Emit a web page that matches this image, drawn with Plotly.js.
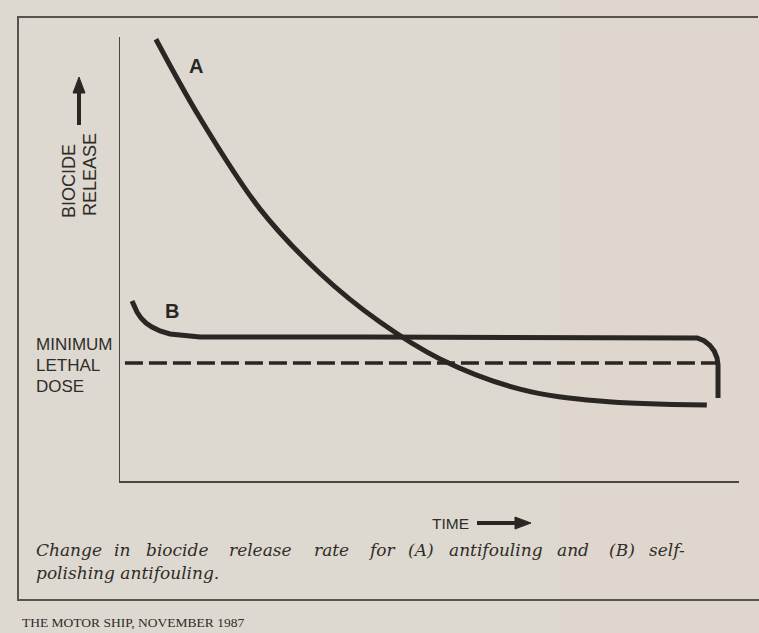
<!DOCTYPE html>
<html>
<head>
<meta charset="utf-8">
<script src="https://cdn.plot.ly/plotly-3.0.1.min.js"></script>
<style>
html,body{margin:0;padding:0;background:#ddd9d0;}
#chart{width:759px;height:633px;}
</style>
</head>
<body>
<div id="chart"></div>
<script>
// ---- data (schematic: time 0..100, biocide release 0..100) ----
const timeA    = [5.8, 12.9, 22.6, 32.3, 42.0, 51.7, 64.6, 77.5, 94.8];
const releaseA = [99.5, 81.8, 61.3, 46.8, 35.8, 27.5, 20.7, 18.0, 17.1];
const timeB    = [1.94, 2.26, 2.75, 3.39, 4.20, 5.17, 6.46, 8.08, 10.50, 12.92, 40, 70, 92.08, 93.25, 94.35, 95.28, 95.99, 96.45, 96.61, 96.61];
const releaseB = [40.54, 39.41, 38.06, 36.71, 35.59, 34.68, 33.78, 33.11, 32.66, 32.43, 32.43, 32.43, 32.43, 32.21, 31.58, 30.59, 29.28, 27.70, 26.13, 18.69];
const lethalTime = [0.8, 97.4];
const lethalDose = [26.6, 26.6];
const curveLabels = ["A", "B"];
const yLabelLines = ["BIOCIDE", "RELEASE"];
const doseLabel = ["MINIMUM", "LETHAL", "DOSE"];
const xLabel = "TIME";
const captionLine1 = ["Change", "in", "biocide", "release", "rate", "for", "(A)", "antifouling", "and", "(B)", "self-"];
const captionLine2 = "polishing antifouling.";
const footer = "THE MOTOR SHIP, NOVEMBER 1987";

// ---- layout helpers (pixel -> paper) ----
const W = 759, H = 633;
const PX = p => p / W;
const PY = p => 1 - p / H;
const ink = "#2a2623";
const textInk = "#302c29";

const traces = [
  {x: timeA, y: releaseA, mode: "lines", line: {color: ink, width: 5, shape: "spline", smoothing: 1}, hoverinfo: "skip"},
  {x: timeB, y: releaseB, mode: "lines", line: {color: ink, width: 5, shape: "linear"}, hoverinfo: "skip"},
  {x: lethalTime, y: lethalDose, mode: "lines", line: {color: ink, width: 3.5, dash: "18px,6px"}, hoverinfo: "skip"}
];

const capX1 = [34, 112, 144, 227, 312, 366, 406, 447, 555, 607, 647];
const sans = "Liberation Sans, Arial";
const annotations = [];
// curve labels
annotations.push({xref: "paper", yref: "paper", x: PX(196), y: PY(66), text: curveLabels[0], showarrow: false,
  font: {family: sans, size: 20, color: ink, weight: 700}, xanchor: "center", yanchor: "middle"});
annotations.push({xref: "paper", yref: "paper", x: PX(172), y: PY(311), text: curveLabels[1], showarrow: false,
  font: {family: sans, size: 20, color: ink, weight: 700}, xanchor: "center", yanchor: "middle"});
// y label (rotated)
annotations.push({xref: "paper", yref: "paper", x: PX(69), y: PY(181), text: yLabelLines[0], showarrow: false, textangle: -90,
  font: {family: sans, size: 18, color: textInk}, xanchor: "center", yanchor: "middle"});
annotations.push({xref: "paper", yref: "paper", x: PX(90), y: PY(175), text: yLabelLines[1], showarrow: false, textangle: -90,
  font: {family: sans, size: 18, color: textInk}, xanchor: "center", yanchor: "middle"});
// minimum lethal dose
doseLabel.forEach((t, i) => annotations.push({xref: "paper", yref: "paper", x: PX(34), y: PY(344 + i * 21), text: t, showarrow: false,
  font: {family: sans, size: 17, color: textInk}, xanchor: "left", yanchor: "middle"}));
// time label
annotations.push({xref: "paper", yref: "paper", x: PX(471), y: PY(523), text: xLabel, showarrow: false,
  font: {family: sans, size: 15.5, color: textInk}, xanchor: "right", yanchor: "middle"});
// caption
captionLine1.forEach((t, i) => annotations.push({xref: "paper", yref: "paper", x: PX(capX1[i]), y: PY(550), text: t, showarrow: false,
  font: {family: "DejaVu Serif", size: 17, color: textInk, style: "italic"}, xanchor: "left", yanchor: "middle"}));
annotations.push({xref: "paper", yref: "paper", x: PX(34), y: PY(573), text: captionLine2, showarrow: false,
  font: {family: "DejaVu Serif", size: 17, color: textInk, style: "italic"}, xanchor: "left", yanchor: "middle"});
// footer
annotations.push({xref: "paper", yref: "paper", x: PX(20), y: PY(622), text: footer, showarrow: false,
  font: {family: "Liberation Serif", size: 13.5, color: "#302c29"}, xanchor: "left", yanchor: "middle"});

const shapes = [
  // faint print-through tint on the right of the scan
  {type: "rect", xref: "paper", yref: "paper", x0: PX(560), x1: 1, y0: 0, y1: 1, fillcolor: "rgba(232,210,200,0.25)", line: {width: 0}, layer: "below"},
  // outer frame
  {type: "line", xref: "paper", yref: "paper", x0: PX(18), x1: PX(758), y0: PY(17), y1: PY(17), line: {color: "#57534d", width: 2}},
  {type: "line", xref: "paper", yref: "paper", x0: PX(18), x1: PX(18), y0: PY(16), y1: PY(601), line: {color: "#57534d", width: 2}},
  {type: "line", xref: "paper", yref: "paper", x0: PX(18), x1: PX(759), y0: PY(600), y1: PY(600), line: {color: "#57534d", width: 2}},
  // up arrow
  {type: "line", xref: "paper", yref: "paper", x0: PX(79), x1: PX(79), y0: PY(125), y1: PY(90), line: {color: ink, width: 4}},
  {type: "path", xref: "paper", yref: "paper",
   path: `M ${PX(73)} ${PY(93)} L ${PX(79)} ${PY(77)} L ${PX(85)} ${PY(93)} Z`, fillcolor: ink, line: {color: ink, width: 1}},
  // right arrow
  {type: "line", xref: "paper", yref: "paper", x0: PX(477), x1: PX(518), y0: PY(523), y1: PY(523), line: {color: ink, width: 4}},
  {type: "path", xref: "paper", yref: "paper",
   path: `M ${PX(515)} ${PY(517)} L ${PX(531)} ${PY(523)} L ${PX(515)} ${PY(529)} Z`, fillcolor: ink, line: {color: ink, width: 1}}
];

const layout = {
  width: W, height: H,
  margin: {l: 0, r: 0, t: 0, b: 0},
  paper_bgcolor: "#ddd9d0",
  plot_bgcolor: "rgba(0,0,0,0)",
  showlegend: false,
  xaxis: {domain: [PX(120), PX(739)], range: [0, 100], showgrid: false, zeroline: false, showticklabels: false, ticks: "",
          showline: true, linecolor: "#4a4640", linewidth: 1.5, fixedrange: true},
  yaxis: {domain: [PY(481), PY(37)], range: [0, 100], showgrid: false, zeroline: false, showticklabels: false, ticks: "",
          showline: true, linecolor: "#4a4640", linewidth: 1.5, fixedrange: true},
  annotations: annotations,
  shapes: shapes
};

Plotly.newPlot("chart", traces, layout, {staticPlot: true, displayModeBar: false});
</script>
</body>
</html>
